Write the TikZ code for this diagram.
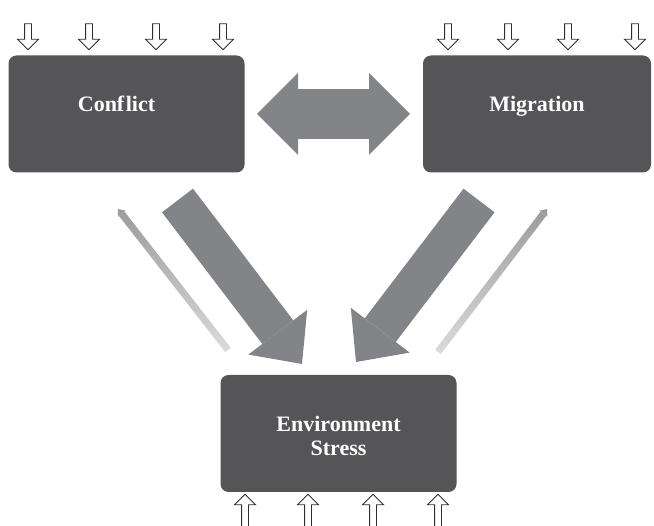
\documentclass[tikz,border=0pt]{standalone}
\usepackage{fontspec}
\setmainfont{Liberation Serif}
\usetikzlibrary{arrows.meta,shapes.arrows,fadings}

\definecolor{boxgray}{HTML}{555557}
\definecolor{arrgray}{HTML}{838488}
\definecolor{thingray}{HTML}{9A9A9A}
\definecolor{edgegray}{HTML}{2E2E2E}

\tikzfading[name=fadelow, top color=transparent!0, bottom color=transparent!65]

\tikzset{
  factor/.style={fill=boxgray, rounded corners=8pt, minimum width=236pt, minimum height=117pt,
    text=white, font=\bfseries\fontsize{22}{24}\selectfont, inner sep=0pt, align=center},
  inarrow/.style={single arrow, draw=edgegray, fill=white, line width=0.9pt, minimum height=26pt,
    inner xsep=0pt, inner ysep=3pt, single arrow head extend=7pt},
  bigarrow/.style={draw=arrgray, line width=39pt, -{Triangle[length=40pt,width=74pt,line width=0pt]}},
  twoway/.style={draw=arrgray, line width=50pt,
    {Triangle[length=41pt,width=82pt,line width=0pt]}-{Triangle[length=41pt,width=82pt,line width=0pt]}},
  backarrow/.style={draw=thingray, line width=7pt, -{Triangle[length=6pt,width=10pt,line width=0pt]}, path fading=fadelow}
}

\begin{document}
\begin{tikzpicture}[x=1pt,y=-1pt]
\useasboundingbox (0,0) rectangle (654,526);

% the three factors
\node[factor, text height=16pt, text depth=20pt] (conflict) at (126.5,114) {Conf\kern1.5pt lict\hspace*{20pt}};
\node[factor, minimum width=228pt, text height=16pt, text depth=20pt] (migration) at (537,114) {Migration};
\node[factor] (stress) at (338.5,433.5) {\rule{0pt}{21pt}Environment\\Stress};

% outside inputs
\foreach \x [count=\i] in {28,89,156,223}
  \node[inarrow, rotate=-90] (cin\i) at (\x,35) {};
\foreach \x [count=\i] in {448,508,568,635}
  \node[inarrow, rotate=-90] (min\i) at (\x,35) {};
\foreach \x [count=\i] in {245,308,373,438}
  \node[inarrow, rotate=90, minimum height=34pt] (sin\i) at (\x,513) {};

% arrow ends
\coordinate (dl) at (257,114);
\coordinate (dr) at (410,114);
\coordinate (ct) at (177.5,200.5);
\coordinate (ch) at (302,364);
\coordinate (mt) at (479,200.5);
\coordinate (mh) at (356,362);
\coordinate (sl) at (228,350);
\coordinate (cl) at (118,209);
\coordinate (sr) at (438,352);
\coordinate (mr) at (547,209);

\draw[twoway] (dl) -- (dr);
\draw[bigarrow] (ct) -- (ch);
\draw[bigarrow] (mt) -- (mh);
\draw[backarrow] (sl) -- (cl);
\draw[backarrow] (sr) -- (mr);
\end{tikzpicture}
\end{document}
